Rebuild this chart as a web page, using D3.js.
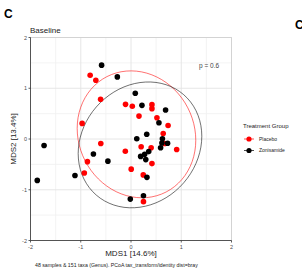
<!DOCTYPE html>
<html><head><meta charset="utf-8">
<script src="https://cdn.jsdelivr.net/npm/d3@7"></script>
<style>body{margin:0;background:#fff}svg{display:block;font-family:"Liberation Sans",Arial,sans-serif}</style>
</head><body><svg id="c" width="302" height="270"></svg>
<script>
const groups = ["Placebo", "Zonisamide"];
const groupColors = ["#ff0000", "#000000"];
const placeboX = [-0.813,-0.700,-0.605,-0.109,0.026,0.417,0.417,0.159,0.516,0.738,-0.972,0.641,-0.601,0.671,0.202,0.401,0.909,-0.113,0.417,-0.867,0.004,-0.929,0.244,0.248];
const placeboY = [1.257,1.158,0.782,0.683,0.644,0.677,0.598,0.451,0.420,0.267,0.307,0.109,-0.089,-0.089,-0.154,-0.172,-0.208,-0.242,-0.485,-0.446,-0.594,-0.669,-0.707,-1.234];
const zonisamideX = [-0.585,-0.272,0.085,0.218,0.688,0.556,0.313,0.115,0.625,0.728,0.589,0.353,0.272,0.192,0.294,-1.730,-0.748,-0.460,-1.865,-1.115,0.317,0.248,-0.014,0.615];
const zonisamideY = [1.455,1.224,0.901,0.663,0.570,0.321,0.093,0.004,0.004,-0.083,-0.172,-0.248,-0.301,-0.343,-0.406,-0.129,-0.297,-0.436,-0.816,-0.719,-0.756,-1.119,-1.184,-0.079];
// 95% ellipses per group: centre and Cholesky-scaled shape (data units)
const ellipseCx = [0.109, 0.179];
const ellipseCy = [0.092, -0.116];
const ellipseA = [1.18, 1.23];    // x half-extent
const ellipseB = [-0.116, 0.171]; // shear term
const ellipseC = [1.245, 1.228];  // y term
const xTicks = [-2, -1, 0, 1, 2];
const yTicks = [-2, -1, 0, 1, 2];
const minorTicks = [-1.5, -0.5, 0.5, 1.5];
const panelLabel = "C";
const nextPanelLabel = "C";
const panelTitle = "Baseline";
const xTitle = "MDS1 [14.6%]";
const yTitle = "MDS2 [13.4%]";
const pLabel = "p = 0.6";
const legendTitle = "Treatment Group";
const caption = "48 samples & 151 taxa (Genus). PCoA tax_transform/identity dist=bray";

const svg = d3.select("#c");
const x = d3.scaleLinear().domain([-2, 2]).range([30.5, 231.5]);
const y = d3.scaleLinear().domain([-2, 2]).range([240.5, 37.5]);

// grid
const g = svg.append("g");
g.selectAll(".mnx").data(minorTicks).join("line")
  .attr("x1", d => x(d)).attr("x2", d => x(d)).attr("y1", y(2)).attr("y2", y(-2))
  .attr("stroke", "#f0f0f0").attr("stroke-width", 0.8);
g.selectAll(".mny").data(minorTicks).join("line")
  .attr("y1", d => y(d)).attr("y2", d => y(d)).attr("x1", x(-2)).attr("x2", x(2))
  .attr("stroke", "#f0f0f0").attr("stroke-width", 0.8);
g.selectAll(".mjx").data(xTicks).join("line")
  .attr("x1", d => x(d)).attr("x2", d => x(d)).attr("y1", y(2)).attr("y2", y(-2))
  .attr("stroke", "#e3e3e3").attr("stroke-width", 0.9);
g.selectAll(".mjy").data(yTicks).join("line")
  .attr("y1", d => y(d)).attr("y2", d => y(d)).attr("x1", x(-2)).attr("x2", x(2))
  .attr("stroke", "#e3e3e3").attr("stroke-width", 0.9);
g.append("rect").attr("x", x(-2)).attr("y", y(2)).attr("width", x(2) - x(-2)).attr("height", y(-2) - y(2))
  .attr("fill", "none").attr("stroke", "#cfcfcf").attr("stroke-width", 0.8);

const line = d3.line().x(d => x(d[0])).y(d => y(d[1]));
function ellipsePts(gi) {
  return d3.range(0, 73).map(k => {
    const t = k * 2 * Math.PI / 72;
    return [ellipseCx[gi] + ellipseA[gi] * Math.cos(t),
            ellipseCy[gi] + ellipseB[gi] * Math.cos(t) + ellipseC[gi] * Math.sin(t)];
  });
}
const seriesX = [placeboX, zonisamideX];
const seriesY = [placeboY, zonisamideY];

groups.forEach((gname, gi) => {
  svg.append("path").attr("d", line(ellipsePts(gi)))
    .attr("fill", "none").attr("stroke", groupColors[gi]).attr("stroke-width", 0.7)
    .attr("opacity", 0.8);
});
groups.forEach((gname, gi) => {
  svg.append("g").selectAll("circle").data(seriesX[gi].map((v, i) => [v, seriesY[gi][i]])).join("circle")
    .attr("cx", d => x(d[0])).attr("cy", d => y(d[1])).attr("r", 2.8).attr("fill", groupColors[gi]);
});

// axes
svg.append("line").attr("x1", x(-2)).attr("x2", x(-2)).attr("y1", y(2)).attr("y2", y(-2)).attr("stroke", "#333").attr("stroke-width", 0.8);
svg.append("line").attr("x1", x(-2)).attr("x2", x(2)).attr("y1", y(-2)).attr("y2", y(-2)).attr("stroke", "#333").attr("stroke-width", 0.8);
svg.selectAll(".tx").data(xTicks).join("line").attr("x1", d => x(d)).attr("x2", d => x(d)).attr("y1", y(-2)).attr("y2", y(-2) + 2).attr("stroke", "#333").attr("stroke-width", 0.8);
svg.selectAll(".ty").data(yTicks).join("line").attr("y1", d => y(d)).attr("y2", d => y(d)).attr("x1", x(-2)).attr("x2", x(-2) - 2).attr("stroke", "#333").attr("stroke-width", 0.8);
svg.selectAll(".txl").data(xTicks).join("text").attr("x", d => x(d)).attr("y", y(-2) + 8).attr("text-anchor", "middle")
  .attr("font-size", 5.5).attr("fill", "#4d4d4d").text(d => d);
svg.selectAll(".tyl").data(yTicks).join("text").attr("x", x(-2) - 3.5).attr("y", d => y(d) + 2).attr("text-anchor", "end")
  .attr("font-size", 5.5).attr("fill", "#4d4d4d").text(d => d);

// titles
svg.append("text").attr("x", 4).attr("y", 18).attr("font-size", 12).attr("font-weight", "bold").text(panelLabel);
svg.append("text").attr("x", 295).attr("y", 29).attr("font-size", 12).attr("font-weight", "bold").text(nextPanelLabel);
svg.append("text").attr("x", 30).attr("y", 33).attr("font-size", 8).attr("fill", "#222").text(panelTitle);
svg.append("text").attr("x", 131).attr("y", 256).attr("text-anchor", "middle").attr("font-size", 8).attr("fill", "#222").text(xTitle);
svg.append("text").attr("transform", "translate(16,139) rotate(-90)").attr("text-anchor", "middle").attr("font-size", 8).attr("fill", "#222").text(yTitle);
svg.append("text").attr("x", 199).attr("y", 68).attr("font-size", 6.5).attr("fill", "#444").text(pLabel);
svg.append("text").attr("x", 35).attr("y", 267).attr("font-size", 5.2).attr("fill", "#222").text(caption);

// legend
svg.append("text").attr("x", 243).attr("y", 128).attr("font-size", 6).attr("fill", "#222").text(legendTitle);
groups.forEach((gname, gi) => {
  const ly = 139 + gi * 11.5;
  svg.append("line").attr("x1", 244).attr("x2", 254).attr("y1", ly).attr("y2", ly).attr("stroke", groupColors[gi]).attr("stroke-width", 0.7);
  svg.append("circle").attr("cx", 249).attr("cy", ly).attr("r", 2.6).attr("fill", groupColors[gi]);
  svg.append("text").attr("x", 259).attr("y", ly + 1.8).attr("font-size", 5).attr("fill", "#222").text(gname);
});
</script></body></html>
